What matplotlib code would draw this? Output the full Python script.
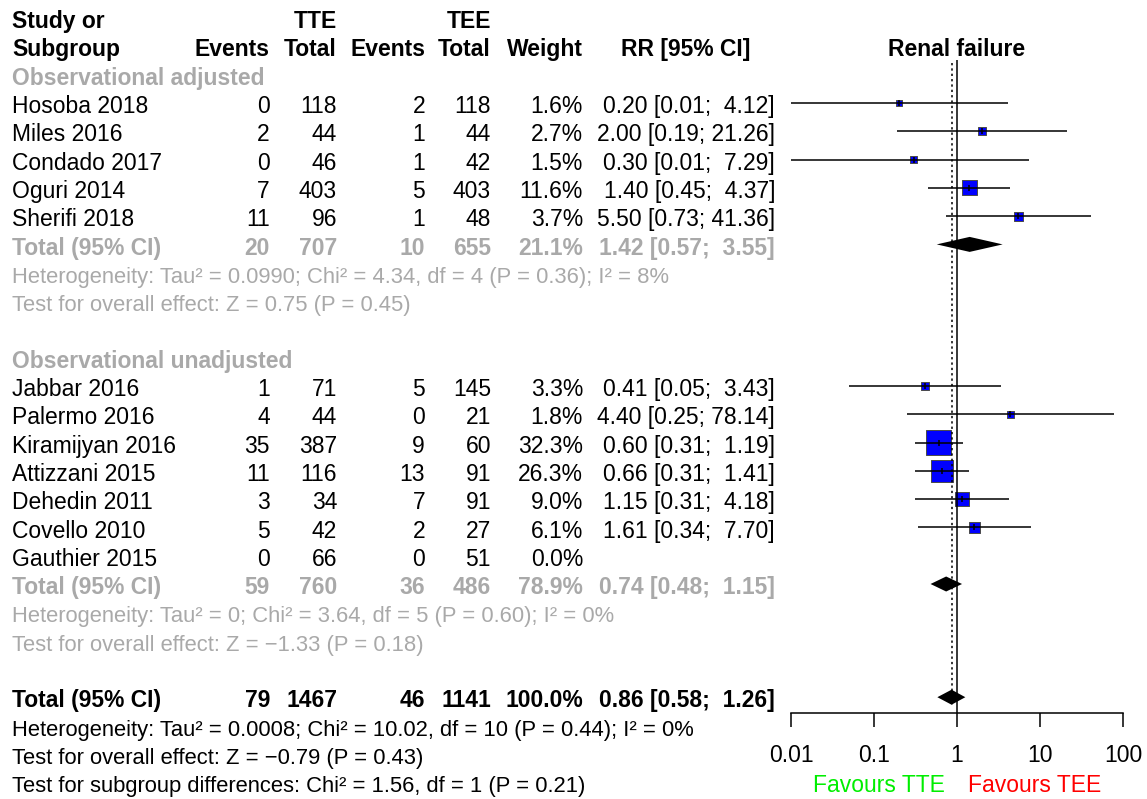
import numpy as np
import matplotlib
matplotlib.use("Agg")
import matplotlib.pyplot as plt
from matplotlib.ticker import FixedLocator, FixedFormatter, NullLocator

# ---- data ----
studies1 = ["Hosoba 2018", "Miles 2016", "Condado 2017", "Oguri 2014", "Sherifi 2018"]
ev_tte1 = [0, 2, 0, 7, 11]
n_tte1 = [118, 44, 46, 403, 96]
ev_tee1 = [2, 1, 1, 5, 1]
n_tee1 = [118, 44, 42, 403, 48]
w1 = [1.6, 2.7, 1.5, 11.6, 3.7]
rr1 = [0.20, 2.00, 0.30, 1.40, 5.50]
lo1 = [0.01, 0.19, 0.01, 0.45, 0.73]
hi1 = [4.12, 21.26, 7.29, 4.37, 41.36]

studies2 = ["Jabbar 2016", "Palermo 2016", "Kiramijyan 2016", "Attizzani 2015",
            "Dehedin 2011", "Covello 2010", "Gauthier 2015"]
ev_tte2 = [1, 4, 35, 11, 3, 5, 0]
n_tte2 = [71, 44, 387, 116, 34, 42, 66]
ev_tee2 = [5, 0, 9, 13, 7, 2, 0]
n_tee2 = [145, 21, 60, 91, 91, 27, 51]
w2 = [3.3, 1.8, 32.3, 26.3, 9.0, 6.1, 0.0]
rr2 = [0.41, 4.40, 0.60, 0.66, 1.15, 1.61, np.nan]
lo2 = [0.05, 0.25, 0.31, 0.31, 0.31, 0.34, np.nan]
hi2 = [3.43, 78.14, 1.19, 1.41, 4.18, 7.70, np.nan]

# pooled: events tte, total tte, events tee, total tee, weight, rr, lo, hi
pooled1 = [20, 707, 10, 655, 21.1, 1.42, 0.57, 3.55]
pooled2 = [59, 760, 36, 486, 78.9, 0.74, 0.48, 1.15]
pooled_all = [79, 1467, 46, 1141, 100.0, 0.86, 0.58, 1.26]

het1 = ["Heterogeneity: Tau\u00b2 = 0.0990; Chi\u00b2 = 4.34, df = 4 (P = 0.36); I\u00b2 = 8%",
        "Test for overall effect: Z = 0.75 (P = 0.45)"]
het2 = ["Heterogeneity: Tau\u00b2 = 0; Chi\u00b2 = 3.64, df = 5 (P = 0.60); I\u00b2 = 0%",
        "Test for overall effect: Z = \u22121.33 (P = 0.18)"]
het_all = ["Heterogeneity: Tau\u00b2 = 0.0008; Chi\u00b2 = 10.02, df = 10 (P = 0.44); I\u00b2 = 0%",
           "Test for overall effect: Z = \u22120.79 (P = 0.43)",
           "Test for subgroup differences: Chi\u00b2 = 1.56, df = 1 (P = 0.21)"]

ticks = [0.01, 0.1, 1, 10, 100]
tick_labels = ["0.01", "0.1", "1", "10", "100"]

# ---- style ----
plt.rcParams['font.family'] = ['Liberation Sans', 'DejaVu Sans']
FS = 16.5
NS = 15.8   # size of the heterogeneity / test lines
GREY = "#a9a9a9"

W, H = 1147, 799
fig = plt.figure(figsize=(W / 100, H / 100), dpi=100)

ROW = 28.3
y_top = -18 / ROW
y_bot = (H - 18) / ROW

ax_t = fig.add_axes([0, 0, 1, 1])
ax_t.set_xlim(0, W)
ax_t.set_ylim(y_bot, y_top)
ax_t.axis('off')

# forest axes: 0.01 at x=791, 100 at x=1123
dec = (1123 - 791) / 4
left_px = 791 - 0.2 * dec
right_px = 1123 + 0.2 * dec
ax_f = fig.add_axes([left_px / W, 0, (right_px - left_px) / W, 1])
ax_f.set_xscale('log')
ax_f.set_xlim(10 ** -2.2, 10 ** 2.2)
ax_f.set_ylim(y_bot, y_top)
ax_f.patch.set_alpha(0)
for s in ['top', 'left', 'right']:
    ax_f.spines[s].set_visible(False)
ax_f.yaxis.set_major_locator(NullLocator())
axis_row = (713 - 18) / ROW
ax_f.spines['bottom'].set_position(('data', axis_row))
ax_f.spines['bottom'].set_bounds(0.01, 100)
ax_f.spines['bottom'].set_linewidth(1.1)
ax_f.xaxis.set_major_locator(FixedLocator(ticks))
ax_f.xaxis.set_major_formatter(FixedFormatter(tick_labels))
ax_f.xaxis.set_minor_locator(NullLocator())
ax_f.tick_params(axis='x', direction='out', length=10, width=1.1, pad=12, labelsize=FS)

# columns (pixel x)
X_STUDY = 12
X_EV1, X_N1, X_EV2, X_N2, X_W = 270, 337, 425, 491, 583
X_RR_C, X_RR_R = 686, 775
BOFF = 0.36  # baseline offset in rows


def txt(x, row, s, ha='left', bold=False, color='black', size=FS):
    ax_t.text(x, row + BOFF, s, ha=ha, va='baseline', fontsize=size, color=color,
              fontweight='bold' if bold else 'normal')


def ci_text(rr, lo, hi):
    return f"{rr:.2f} [{lo:.2f}; {hi:5.2f}]"


def row_values(row, ev1, n1, ev2, n2, w, ci, bold=False, color='black'):
    txt(X_EV1, row, str(ev1), 'right', bold, color)
    txt(X_N1, row, str(n1), 'right', bold, color)
    txt(X_EV2, row, str(ev2), 'right', bold, color)
    txt(X_N2, row, str(n2), 'right', bold, color)
    txt(X_W, row, f"{w:.1f}%", 'right', bold, color)
    if ci:
        txt(X_RR_R, row, ci, 'right', bold, color)


# header
txt(X_STUDY, 0, "Study or", bold=True)
txt(X_N1, 0, "TTE", 'right', True)
txt(X_N2, 0, "TEE", 'right', True)
txt(X_STUDY, 1, "Subgroup", bold=True)
for x, s in [(X_EV1, "Events"), (X_N1, "Total"), (X_EV2, "Events"), (X_N2, "Total"), (X_W, "Weight")]:
    txt(x, 1, s, 'right', True)
txt(X_RR_C, 1, "RR [95% CI]", 'center', True)
ax_f.text(1, 1 + BOFF, "Renal failure", ha='center', va='baseline', fontsize=FS, fontweight='bold')

SMAX = 300.0 / 32.3  # marker area per weight percent


def draw_diamond(row, est, lo, hi):
    hh = 7.5 / ROW
    ax_f.fill([lo, est, hi, est], [row, row - hh, row, row + hh], color='black', lw=0, zorder=3)


def draw_group(row0, title, studies, e1, n1, e2, n2, w, rr, lo, hi, pooled, het):
    txt(X_STUDY, row0, title, bold=True, color=GREY)
    rows = np.arange(len(studies)) + row0 + 1
    for r, name, a, b, c, d, ww, est, l, h in zip(rows, studies, e1, n1, e2, n2, w, rr, lo, hi):
        txt(X_STUDY, r, name)
        ci = None if np.isnan(est) else ci_text(est, l, h)
        row_values(r, a, b, c, d, ww, ci)
    ok = ~np.isnan(np.array(rr, float))
    rr_a, lo_a, hi_a = np.array(rr)[ok], np.array(lo)[ok], np.array(hi)[ok]
    w_a, r_a = np.array(w)[ok], rows[ok]
    ax_f.scatter(rr_a, r_a, s=w_a * SMAX + 8, marker='s', color='#0000ff',
                 edgecolors='#4a4a4a', linewidths=0.7, zorder=2)
    ax_f.hlines(r_a, lo_a, hi_a, color='black', lw=1.1, zorder=3)
    ax_f.plot(rr_a, r_a, ls='none', marker='|', ms=5, mew=1.1, color='black', zorder=3)
    prow = row0 + len(studies) + 1
    txt(X_STUDY, prow, "Total (95% CI)", bold=True, color=GREY)
    row_values(prow, *pooled[:5], ci_text(*pooled[5:]), bold=True, color=GREY)
    draw_diamond(prow, *pooled[5:])
    txt(X_STUDY, prow + 1, het[0], color=GREY, size=NS)
    txt(X_STUDY, prow + 2, het[1], color=GREY, size=NS)


draw_group(2, "Observational adjusted", studies1, ev_tte1, n_tte1, ev_tee1, n_tee1,
           w1, rr1, lo1, hi1, pooled1, het1)
draw_group(12, "Observational unadjusted", studies2, ev_tte2, n_tte2, ev_tee2, n_tee2,
           w2, rr2, lo2, hi2, pooled2, het2)

# overall
txt(X_STUDY, 24, "Total (95% CI)", bold=True)
row_values(24, *pooled_all[:5], ci_text(*pooled_all[5:]), bold=True)
draw_diamond(24, *pooled_all[5:])
for i, s in enumerate(het_all):
    txt(X_STUDY, 25 + i, s, size=NS)

# reference lines
ax_f.vlines(1, (60 - 18) / ROW, axis_row, color='black', lw=1.1, zorder=4)
ax_f.vlines(pooled_all[5], (63 - 18) / ROW, (705 - 18) / ROW, color='black', lw=1.1,
            linestyles=(0, (1.5, 2)), zorder=4)

ax_f.annotate("Favours TTE", xy=(1, 27 + BOFF), xytext=(-8.5, 0), textcoords='offset points',
              ha='right', va='baseline', fontsize=FS, color='#00ee00')
ax_f.annotate("Favours TEE", xy=(1, 27 + BOFF), xytext=(8, 0), textcoords='offset points',
              ha='left', va='baseline', fontsize=FS, color='#ff0000')

fig.savefig("out.png", dpi=100)
